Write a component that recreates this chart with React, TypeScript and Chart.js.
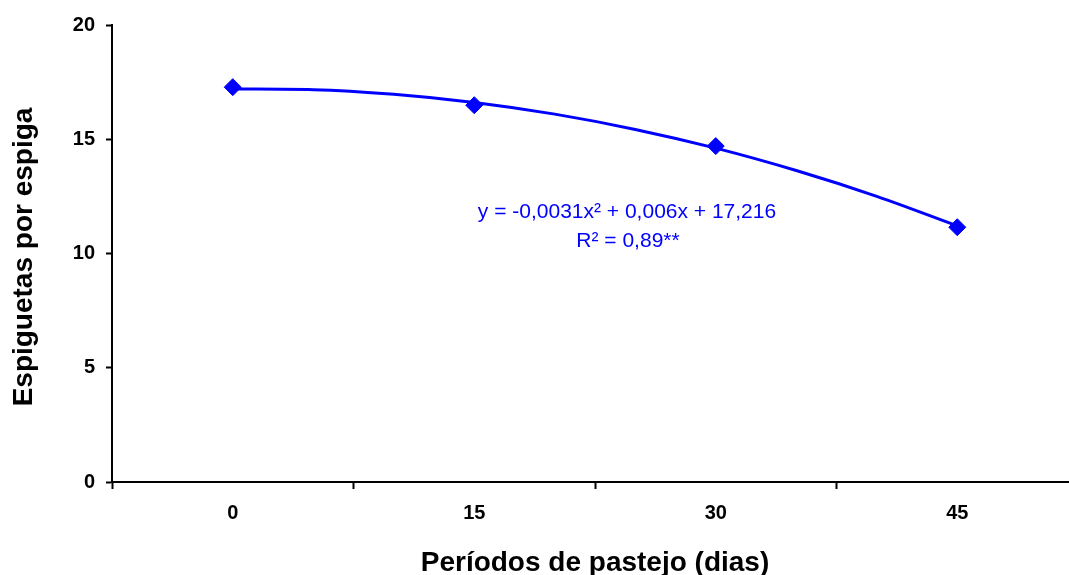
import React, { useEffect, useRef } from "react";
import { Chart, registerables } from "chart.js";

Chart.register(...registerables);

const categories = ["0", "15", "30", "45"];
const observed = [17.28, 16.49, 14.7, 11.15];
const trendX = [0, 5, 10, 15, 20, 25, 30, 35, 40, 45];
const trendY = [17.2, 17.17, 16.97, 16.61, 16.1, 15.43, 14.61, 13.63, 12.5, 11.21];
const yTicks = [0, 5, 10, 15, 20];
const xTitle = "Períodos de pastejo (dias)";
const yTitle = "Espiguetas por espiga";
const eqLine1 = "y = -0,0031x² + 0,006x + 17,216";
const eqLine2 = "R² = 0,89**";

const FONT = "'Liberation Sans', Arial, sans-serif";

const textPlugin = {
  id: "texts",
  afterDraw(chart: any) {
    const ctx = chart.ctx;
    const area = chart.chartArea;
    ctx.save();
    ctx.fillStyle = "#000";
    ctx.font = `bold 28px ${FONT}`;
    ctx.textAlign = "center";
    ctx.textBaseline = "alphabetic";
    ctx.fillText(xTitle, (area.left + area.right) / 2, 571);
    ctx.textBaseline = "middle";
    ctx.translate(24, 257);
    ctx.rotate(-Math.PI / 2);
    ctx.fillText(yTitle, 0, 0);
    ctx.restore();
    ctx.save();
    ctx.fillStyle = "#0000FF";
    ctx.font = `21px ${FONT}`;
    ctx.textAlign = "center";
    ctx.textBaseline = "middle";
    ctx.fillText(eqLine1, 627, 212);
    ctx.fillText(eqLine2, 628, 241);
    ctx.restore();
  },
};

export default function App() {
  const ref = useRef<HTMLCanvasElement>(null);
  useEffect(() => {
    document.body.style.margin = "0";
    document.body.style.overflow = "hidden";
    const chart = new Chart(ref.current!, {
      type: "line",
      data: {
        labels: categories,
        datasets: [
          {
            label: "trend",
            data: trendX.map((x, i) => ({ x, y: trendY[i] })),
            xAxisID: "x2",
            borderColor: "#0000FF",
            borderWidth: 3,
            pointRadius: 0,
            tension: 0.4,
            cubicInterpolationMode: "monotone",
            fill: false,
          } as any,
          {
            label: "obs",
            data: observed,
            xAxisID: "x",
            showLine: false,
            pointStyle: "rectRot",
            pointRadius: 8.5,
            pointBackgroundColor: "#0000FF",
            pointBorderColor: "#0000FF",
            pointBorderWidth: 1,
          },
        ],
      },
      options: {
        responsive: false,
        animation: false,
        layout: { padding: { top: 25, right: 12, left: 0, bottom: 0 } },
        plugins: { legend: { display: false }, tooltip: { enabled: false } },
        scales: {
          x: {
            type: "category",
            offset: true,
            grid: { offset: true, drawOnChartArea: false, tickLength: 7, tickColor: "#000", tickWidth: 2 },
            border: { display: true, color: "#000", width: 2 },
            ticks: { color: "#000", font: { family: FONT, size: 20, weight: "bold" }, padding: 12 },
            afterFit(s: any) { s.height = 93; },
          },
          x2: {
            type: "linear",
            min: -7.5,
            max: 52.5,
            display: false,
          },
          y: {
            min: 0,
            max: 20,
            afterBuildTicks(s: any) { s.ticks = yTicks.map((v) => ({ value: v })); },
            grid: { drawOnChartArea: false, tickLength: 6, tickColor: "#000", tickWidth: 2 },
            border: { display: true, color: "#000", width: 2 },
            ticks: { color: "#000", font: { family: FONT, size: 20, weight: "bold" }, padding: 11 },
            afterFit(s: any) { s.width = 112; },
          },
        },
      },
      plugins: [textPlugin],
    });
    return () => chart.destroy();
  }, []);
  return (
    <div style={{ position: "fixed", left: 0, top: 0, width: 1069, height: 575, overflow: "hidden", background: "#fff" }}>
      <canvas ref={ref} width={1090} height={575} style={{ display: "block" }} />
    </div>
  );
}
